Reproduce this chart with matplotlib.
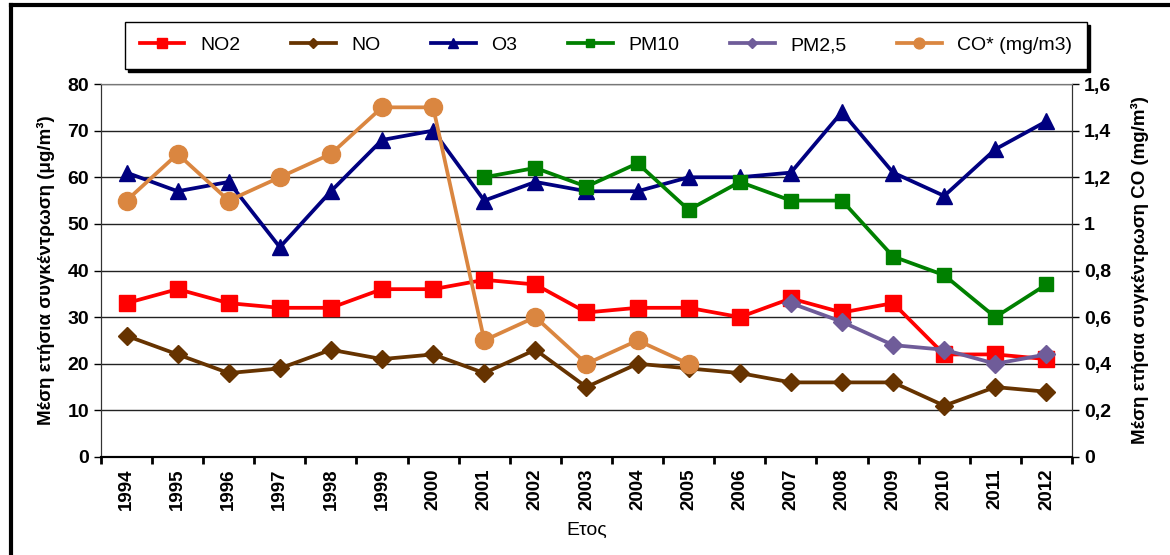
import numpy as np
import matplotlib.pyplot as plt
from matplotlib.lines import Line2D

years = [str(y) for y in range(1994, 2013)]

# values per year, nan = no measurement
no2 = [33, 36, 33, 32, 32, 36, 36, 38, 37, 31, 32, 32, 30, 34, 31, 33, 22, 22, 21]
no = [26, 22, 18, 19, 23, 21, 22, 18, 23, 15, 20, 19, 18, 16, 16, 16, 11, 15, 14]
o3 = [61, 57, 59, 45, 57, 68, 70, 55, 59, 57, 57, 60, 60, 61, 74, 61, 56, 66, 72]
pm10 = [np.nan] * 7 + [60, 62, 58, 63, 53, 59, 55, 55, 43, 39, 30, 37]
pm25 = [np.nan] * 13 + [33, 29, 24, 23, 20, 22]
co = [1.1, 1.3, 1.1, 1.2, 1.3, 1.5, 1.5, 0.5, 0.6, 0.4, 0.5, 0.4] + [np.nan] * 7

left_ticks = [0, 10, 20, 30, 40, 50, 60, 70, 80]
right_ticks = [0, 0.2, 0.4, 0.6, 0.8, 1.0, 1.2, 1.4, 1.6]
right_labels = ["0", "0,2", "0,4", "0,6", "0,8", "1", "1,2", "1,4", "1,6"]

plt.rcParams['font.family'] = ['Liberation Sans', 'DejaVu Sans']

fig = plt.figure(figsize=(11.7, 5.55), dpi=100)
ax = fig.add_axes([0.0863, 0.1766, 0.8299, 0.672])
ax2 = ax.twinx()

x = np.arange(len(years))
lw = 2.7

ax.plot(x, no2, color='#FF0000', lw=lw, marker='s', ms=11, label='NO2')
ax.plot(x, no, color='#663300', lw=lw, marker='D', ms=9, label='NO')
ax.plot(x, o3, color='#000080', lw=lw, marker='^', ms=11, label='O3')
ax.plot(x, pm10, color='#008000', lw=lw, marker='s', ms=10, label='PM10')
ax.plot(x, pm25, color='#6F5C99', lw=lw, marker='D', ms=9, label='PM2,5')
ax2.plot(x, co, color='#DA8640', lw=lw, marker='o', ms=13, label='CO* (mg/m3)')

ax.set_xlim(-0.5, len(years) - 0.5)
ax.set_ylim(0, 80)
ax2.set_ylim(0, 1.6)

ax.set_yticks(left_ticks)
ax2.set_yticks(right_ticks)
ax2.set_yticklabels(right_labels)
ax.yaxis.grid(True, color='#222222', lw=1)
ax.set_axisbelow(True)

ax.set_xticks(x)
ax.set_xticklabels(years, rotation=90, fontweight='bold', fontsize=13.5)
ax.set_xticks(np.arange(-0.5, len(years)), minor=True)
ax.tick_params(axis='x', which='major', length=0, pad=8)
ax.tick_params(axis='x', which='minor', length=5, width=2, direction='out')
ax.tick_params(axis='y', length=5, width=1, labelsize=14)
ax2.tick_params(axis='y', length=5, width=1, labelsize=14)
for lab in ax.get_yticklabels() + ax2.get_yticklabels():
    lab.set_fontweight('bold')

for a in (ax, ax2):
    a.spines['top'].set_color('#777777')
    a.spines['left'].set_color('#333333')
    a.spines['right'].set_color('#333333')
    a.spines['bottom'].set_linewidth(1.5)

ax.set_xlabel('Ετος', fontsize=14, labelpad=9)
ax.set_ylabel('Μέση ετήσια συγκέντρωση (μg/m³)', fontsize=13.5, fontweight='bold', labelpad=9)
ax2.set_ylabel('Μέση ετήσια συγκέντρωση CO (mg/m³)', fontsize=13.5, fontweight='bold',
               rotation=90, labelpad=14)

h1, l1 = ax.get_legend_handles_labels()
h2, l2 = ax2.get_legend_handles_labels()
leg = fig.legend(h1 + h2, l1 + l2, loc='lower left', ncol=6, mode='expand',
                 bbox_to_anchor=(0.107, 0.876, 0.822, 0.083), fontsize=14,
                 markerscale=0.6, handlelength=2.3, borderpad=0.75, frameon=True,
                 fancybox=False, shadow={'color': 'black', 'alpha': 1}, borderaxespad=0)
leg.get_frame().set_edgecolor('black')
leg.get_frame().set_linewidth(1)

# outer frame (top and left edges visible)
fig.add_artist(Line2D([0.009, 1.0], [0.991, 0.991], color='black', lw=3, transform=fig.transFigure))
fig.add_artist(Line2D([0.009, 0.009], [0.0, 0.991], color='black', lw=3, transform=fig.transFigure))

fig.savefig('out.png', dpi=100)
